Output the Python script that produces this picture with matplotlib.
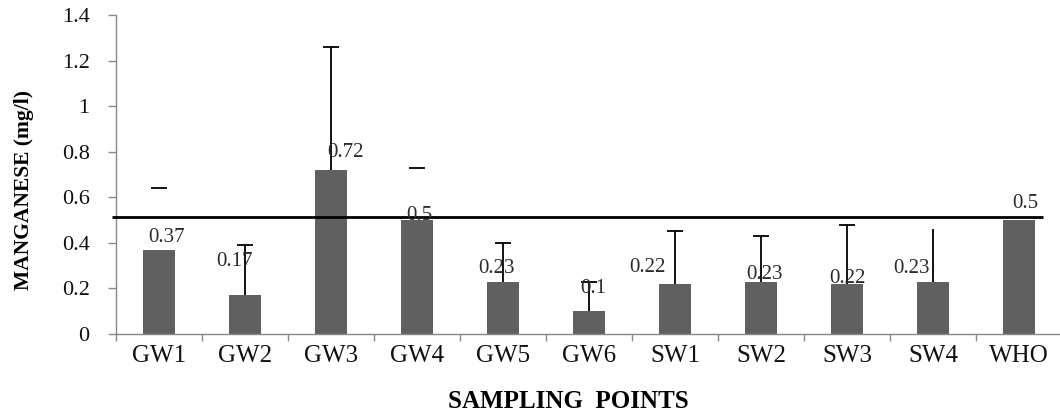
import numpy as np
import matplotlib
matplotlib.use("Agg")
import matplotlib.pyplot as plt

# data
sites = ["GW1", "GW2", "GW3", "GW4", "GW5", "GW6", "SW1", "SW2", "SW3", "SW4", "WHO"]
manganese = [0.37, 0.17, 0.72, 0.5, 0.23, 0.1, 0.22, 0.23, 0.22, 0.23, 0.5]
upper_err = [0.27, 0.22, 0.54, 0.23, 0.17, 0.13, 0.23, 0.20, 0.26, 0.23, 0.0]
# which error bars show a stem / a cap in the original
has_stem = [False, True, True, False, True, True, True, True, True, True, False]
has_cap = [True, True, True, True, True, True, True, True, True, False, False]
who_limit = 0.515

# label nudges in pixels (dx, dy) from the bar top
label_offsets = [(8, 12), (-10, 34), (15, 17), (2, 5), (-6, 13), (4, 23),
                 (-28, 16), (4, 7), (0, 5), (-22, 13), (6, 17)]

serif = ["Liberation Serif", "DejaVu Serif"]
plt.rcParams["font.family"] = serif

fig = plt.figure(figsize=(10.6, 4.15), dpi=100)
ax = fig.add_axes([0.1094, 0.1952, 0.8925, 0.7687])

x = np.arange(len(sites))
vals = np.array(manganese)
tops = vals + np.array(upper_err)

ax.bar(x, vals, width=0.38, color="#606060", zorder=2)

stem = np.array(has_stem)
cap = np.array(has_cap)
ax.vlines(x[stem], vals[stem], tops[stem], color="black", lw=1.3, zorder=3)
ax.plot(x[cap], tops[cap], linestyle="none", marker="_", markersize=11,
        markeredgewidth=1.3, color="black", zorder=3)

ax.hlines(who_limit, -0.55, 10.28, color="black", lw=2, zorder=4, clip_on=False)

for xi, v, (dx, dy) in zip(x, manganese, label_offsets):
    ax.annotate(f"{v:g}", (xi, v), xytext=(dx, dy), textcoords="offset pixels",
                ha="center", va="center", fontsize=15, color="#2a2a2a", zorder=5)

ax.set_xlim(-0.5, 10.5)
ax.set_ylim(0, 1.4)
ax.set_yticks(np.arange(0, 1.41, 0.2))
ax.set_yticklabels(["0", "0.2", "0.4", "0.6", "0.8", "1", "1.2", "1.4"])
ax.set_xticks(x)
ax.set_xticklabels(sites)
ax.set_xticks(np.arange(-0.5, 10.6, 1), minor=True)

for s in ["top", "right"]:
    ax.spines[s].set_visible(False)
for s in ["left", "bottom"]:
    ax.spines[s].set_color("#888888")
    ax.spines[s].set_linewidth(1)

ax.tick_params(axis="y", direction="out", length=6, width=1, color="#888888",
               pad=13, labelsize=16, labelcolor="#111111")
ax.tick_params(axis="x", which="major", length=0, pad=8, labelsize=18,
               labelcolor="#111111")
ax.tick_params(axis="x", which="minor", direction="out", length=5, width=1,
               color="#888888")

fig.text(24 / 1060, 0.542, "MANGANESE (mg/l)", rotation=90, ha="center",
         va="center", fontsize=15.5, fontweight="bold")
fig.text(568 / 1060, 1 - 401 / 415, "SAMPLING  POINTS", ha="center",
         va="center", fontsize=18, fontweight="bold")

fig.savefig("out.png", dpi=100)
